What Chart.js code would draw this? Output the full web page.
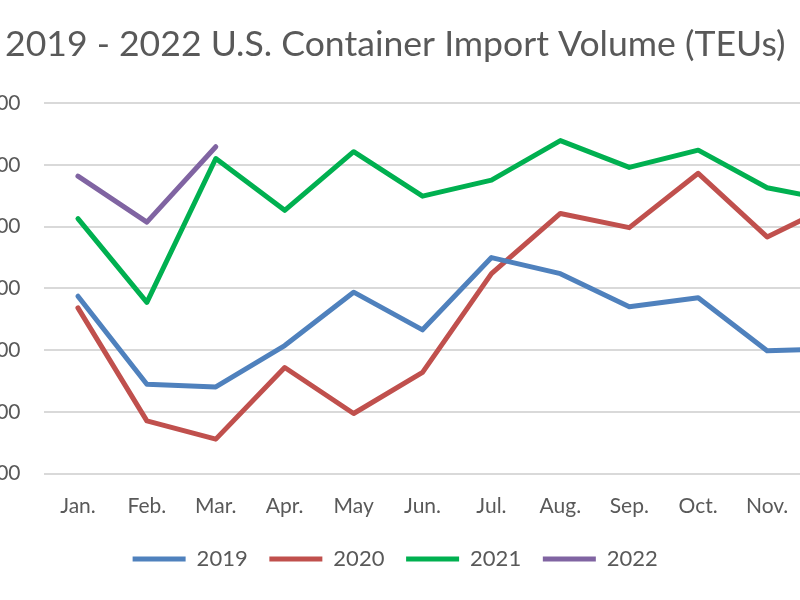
<!DOCTYPE html>
<html>
<head>
<meta charset="utf-8">
<script src="https://cdn.jsdelivr.net/npm/chart.js@4.4.1/dist/chart.umd.min.js"></script>
<style>
  html, body { margin: 0; padding: 0; overflow: hidden; background: #fff; }
  #wrap { position: absolute; left: -80px; top: 0; width: 960px; height: 600px; }
</style>
</head>
<body>
<div id="wrap"><canvas id="canvas"></canvas></div>
<script>
// months and TEU volumes
var months = ["Jan.", "Feb.", "Mar.", "Apr.", "May", "Jun.", "Jul.", "Aug.", "Sep.", "Oct.", "Nov.", "Dec."];
var teu2019 = [1975000, 1690000, 1681000, 1815000, 1988000, 1866000, 2100000, 2048000, 1941000, 1970000, 1798000, 1805000];
var teu2020 = [1937000, 1571000, 1512000, 1744000, 1595000, 1728000, 2048000, 2243000, 2197000, 2373000, 2167000, 2276000];
var teu2021 = [2226000, 1955000, 2421000, 2253000, 2443000, 2299000, 2351000, 2479000, 2392000, 2448000, 2326000, 2283000];
var teu2022 = [2364000, 2215000, 2459000];

var yMin = 1400000, yMax = 2600000, yStep = 200000;

var gray = '#595959';
var font = 'Lato, "Open Sans", sans-serif';

function line(label, data, color) {
    return {
        label: label,
        data: data,
        borderColor: color,
        backgroundColor: color,
        borderWidth: 5,
        borderCapStyle: 'round',
        borderJoinStyle: 'round',
        pointRadius: 0,
        tension: 0,
        fill: false
    };
}

var config = {
    type: 'line',
    data: {
        labels: months,
        datasets: [
            line("2019", teu2019, '#4F81BD'),
            line("2020", teu2020, '#C0504D'),
            line("2021", teu2021, '#00B050'),
            line("2022", teu2022, '#8064A2')
        ]
    },
    options: {
        responsive: true,
        maintainAspectRatio: false,
        animation: false,
        layout: { padding: { left: 0, right: 9.5, top: 0, bottom: 20 } },
        plugins: {
            title: {
                display: true,
                text: '2019 - 2022 U.S. Container Import Volume (TEUs)',
                color: gray,
                font: { family: font, size: 35.6, weight: 'normal' },
                padding: { top: 23.2, bottom: 37.3 }
            },
            legend: {
                position: 'bottom',
                labels: {
                    color: gray,
                    font: { family: font, size: 22 },
                    usePointStyle: true,
                    pointStyle: 'line',
                    pointStyleWidth: 53,
                    padding: 21.7
                }
            },
            tooltip: { enabled: false }
        },
        scales: {
            x: {
                offset: true,
                grid: { display: false, drawTicks: false },
                border: { display: false },
                ticks: { color: gray, font: { family: font, size: 21 }, padding: 20, maxRotation: 0, autoSkip: false },
                afterFit: function(scale) { scale.height = 52.6; }
            },
            y: {
                min: yMin,
                max: yMax,
                grid: { color: '#d9d9d9', lineWidth: 2, drawTicks: false },
                border: { display: false },
                ticks: {
                    stepSize: yStep,
                    color: gray,
                    font: { family: font, size: 21 },
                    padding: 23,
                    callback: function(v) { return v.toLocaleString('en-US'); }
                },
                afterFit: function(scale) { scale.width = 123.5; }
            }
        }
    }
};

window.onload = function() {
    var ctx = document.getElementById("canvas").getContext("2d");
    window.myLine = new Chart(ctx, config);
};
</script>
</body>
</html>
